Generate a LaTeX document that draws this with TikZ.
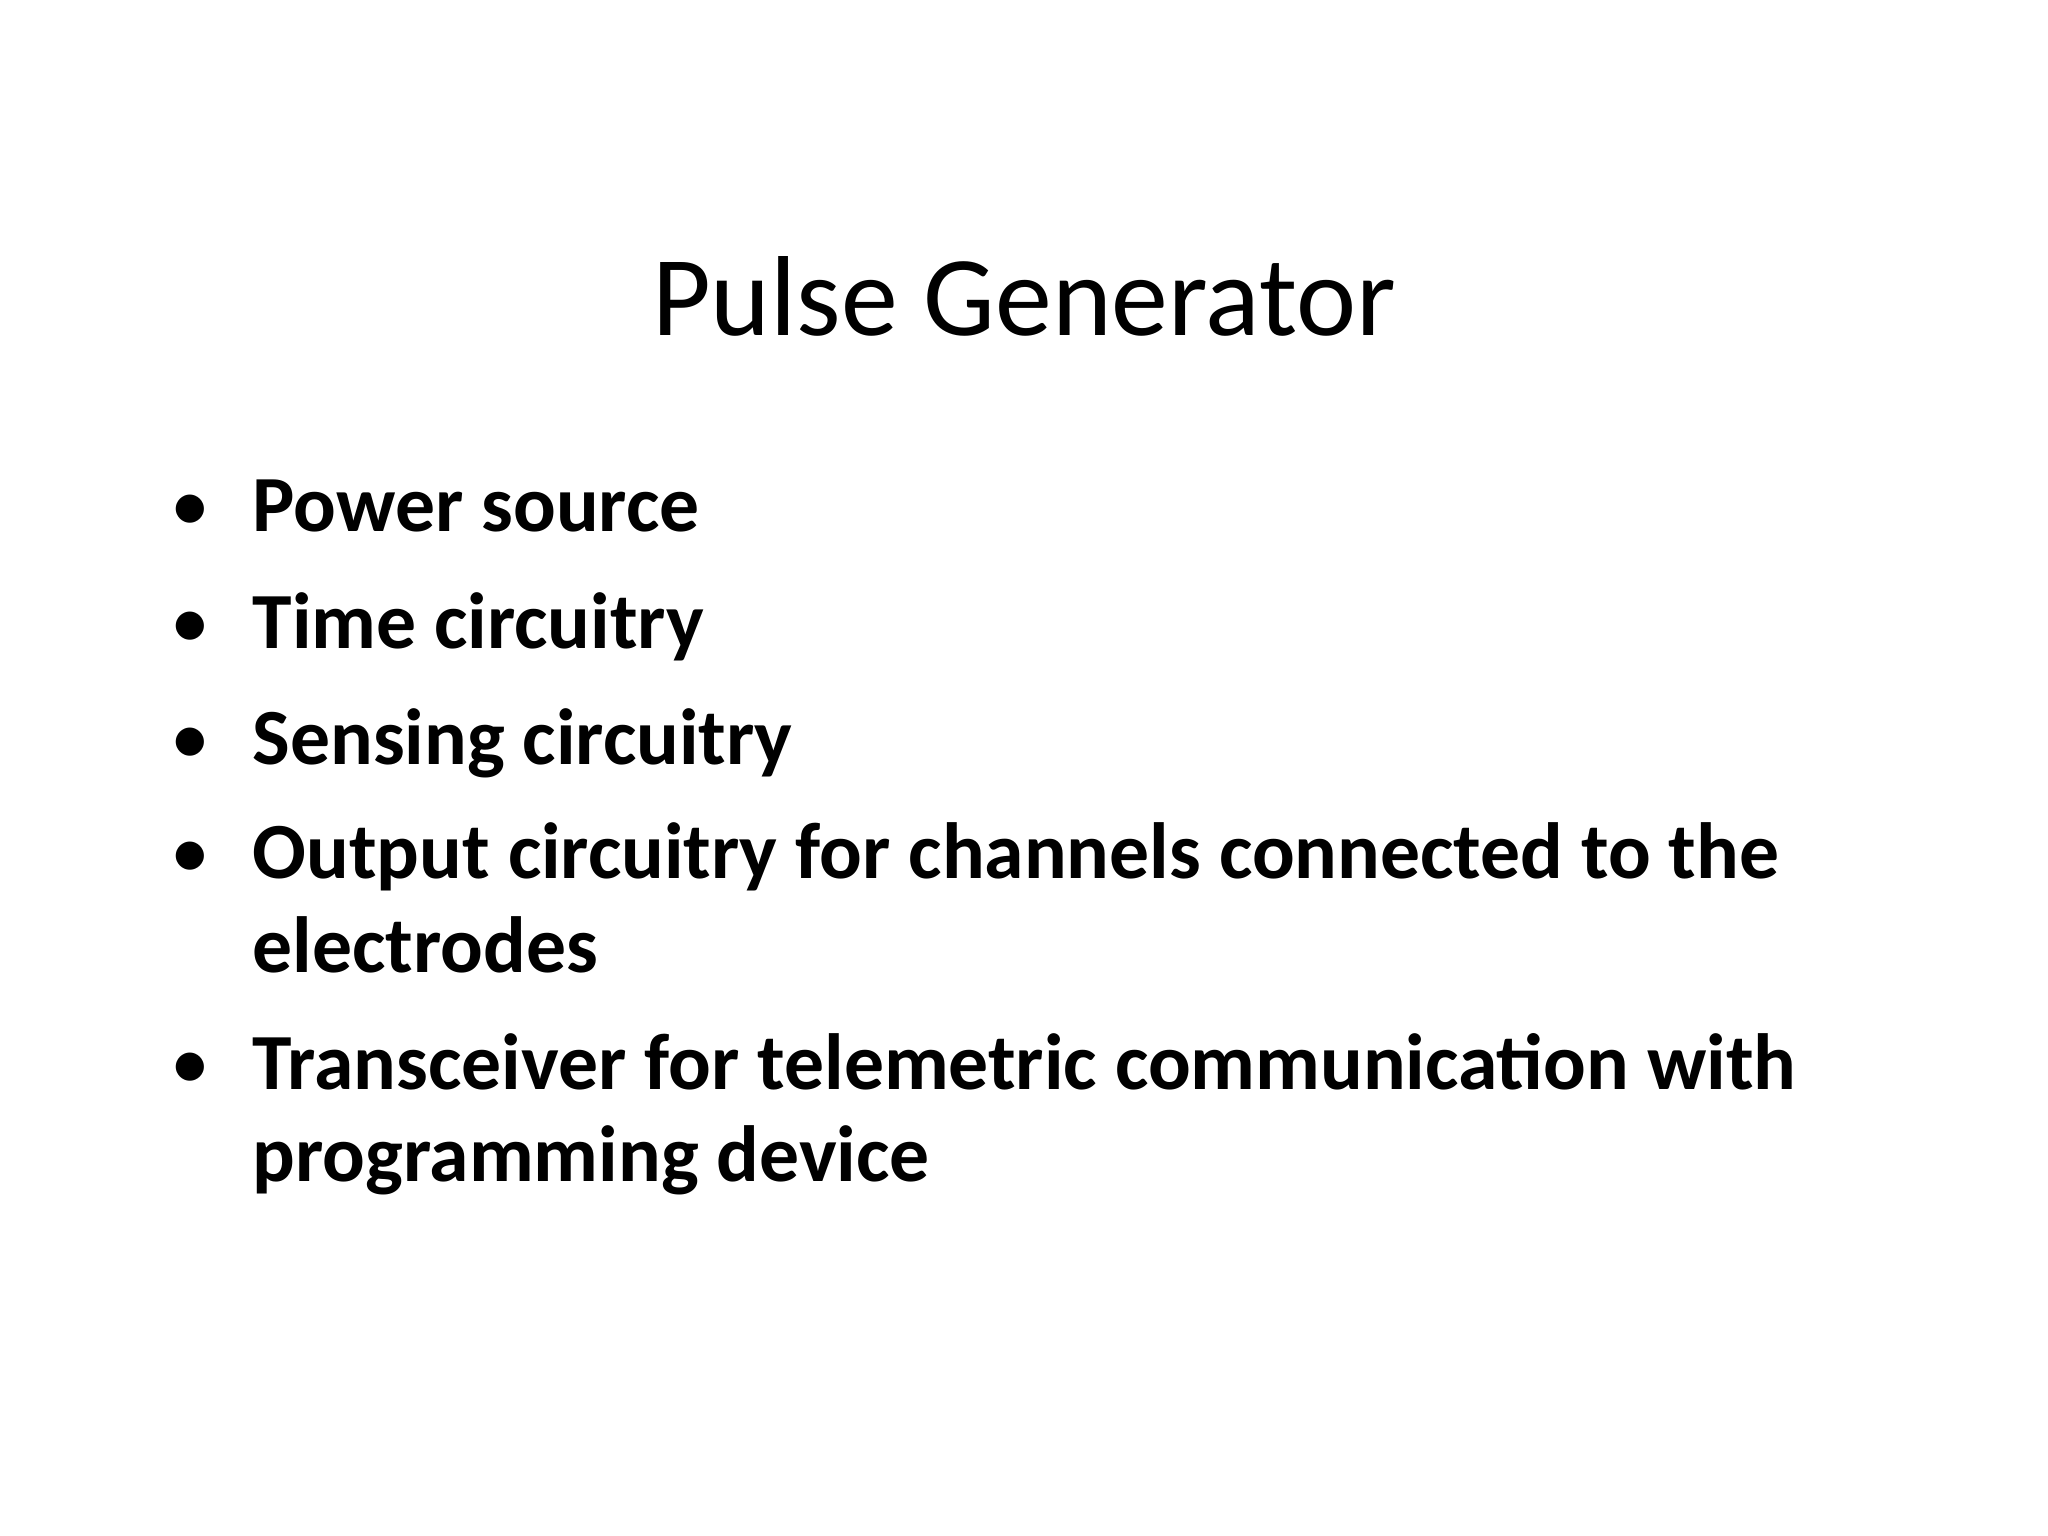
\documentclass[tikz,border=0pt]{standalone}
\usepackage{fontspec}
\setmainfont{Carlito}
\begin{document}
\begin{tikzpicture}[x=1pt,y=-1pt,
  item/.style={anchor=base west,inner sep=0pt,font=\fontsize{28}{33}\selectfont\bfseries},
  dot/.style={anchor=base,inner sep=0pt,font=\fontsize{28}{33}\selectfont}]
\useasboundingbox[fill=white] (0,0) rectangle (720,540);
\node[anchor=base,inner sep=0pt,font=\fontsize{40}{48}\selectfont] (title) at (360,118) {Pulse Generator};
\foreach \n/\y/\t in {a/187/Power source, b/228/Time circuitry, c/268.6/Sensing circuitry,
  d/309/Output circuitry for channels connected to the, e/383/Transceiver for telemetric communication with}{
  \node[dot] (d\n) at (67,\y) {•};
  \node[item] (\n) at (88.6,\y) {\t};
}
\node[item] (d2) at (88.6,342) {electrodes};
\node[item] (e2) at (88.6,415.5) {programming device};
\end{tikzpicture}
\end{document}
